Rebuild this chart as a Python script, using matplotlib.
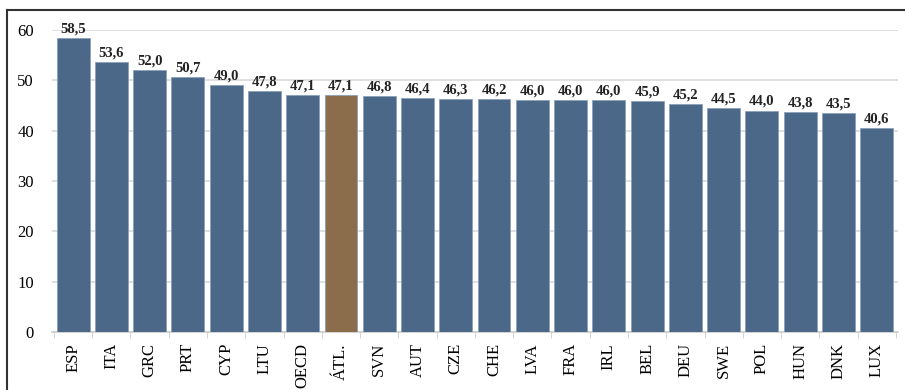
import numpy as np
import matplotlib.pyplot as plt
from matplotlib.lines import Line2D

# --- dati ---
paesi = ["ESP", "ITA", "GRC", "PRT", "CYP", "LTU", "OECD", "ÁTL.", "SVN", "AUT", "CZE",
         "CHE", "LVA", "FRA", "IRL", "BEL", "DEU", "SWE", "POL", "HUN", "DNK", "LUX"]
valori = [58.5, 53.6, 52.0, 50.7, 49.0, 47.8, 47.1, 47.1, 46.8, 46.4, 46.3,
          46.2, 46.0, 46.0, 46.0, 45.9, 45.2, 44.5, 44.0, 43.8, 43.5, 40.6]
evidenziato = "ÁTL."

col_base = "#4b6889"
col_evid = "#8b6d4c"

plt.rcParams['font.family'] = ['Liberation Serif', 'DejaVu Serif']

fig = plt.figure(figsize=(9.05, 3.9), dpi=100)
ax = fig.add_axes([0.0575, 0.149, 0.9345, 0.774])

x = np.arange(len(paesi))
colori = [col_evid if p == evidenziato else col_base for p in paesi]
ax.bar(x, valori, width=0.86, color=colori, edgecolor="#8aa0bb", linewidth=0.6, zorder=3)

for xi, v in zip(x, valori):
    ax.text(xi, v + 0.5, f"{v:.1f}".replace(".", ","), ha="center", va="bottom",
            fontsize=10.5, fontweight="bold", color="#222222", clip_on=False)

ax.set_xlim(-0.55, len(paesi) - 0.45)
ax.set_ylim(0, 60)
ax.set_yticks(range(0, 61, 10))
ax.yaxis.grid(True, color="#d9d9d9", linewidth=1.2, zorder=0)
ax.set_axisbelow(True)

ax.set_xticks(x)
ax.set_xticklabels(paesi, rotation=90, fontsize=12)
ax.set_xticks(np.arange(-0.5, len(paesi), 1), minor=True)
ax.tick_params(axis="x", which="major", length=0, pad=8)
ax.tick_params(axis="x", which="minor", length=4, color="#cccccc")
ax.tick_params(axis="y", length=0, labelsize=12, pad=13)

for s in ["top", "right", "left"]:
    ax.spines[s].set_visible(False)
ax.spines["bottom"].set_color("#cccccc")
ax.spines["bottom"].set_linewidth(1.2)

# cornice esterna (solo lato sinistro e superiore)
fig.add_artist(Line2D([0.008, 0.008], [0, 0.974], transform=fig.transFigure, color="#333333", lw=1.5))
fig.add_artist(Line2D([0.008, 1.0], [0.974, 0.974], transform=fig.transFigure, color="#333333", lw=1.5))

fig.savefig("out.png", dpi=100)
